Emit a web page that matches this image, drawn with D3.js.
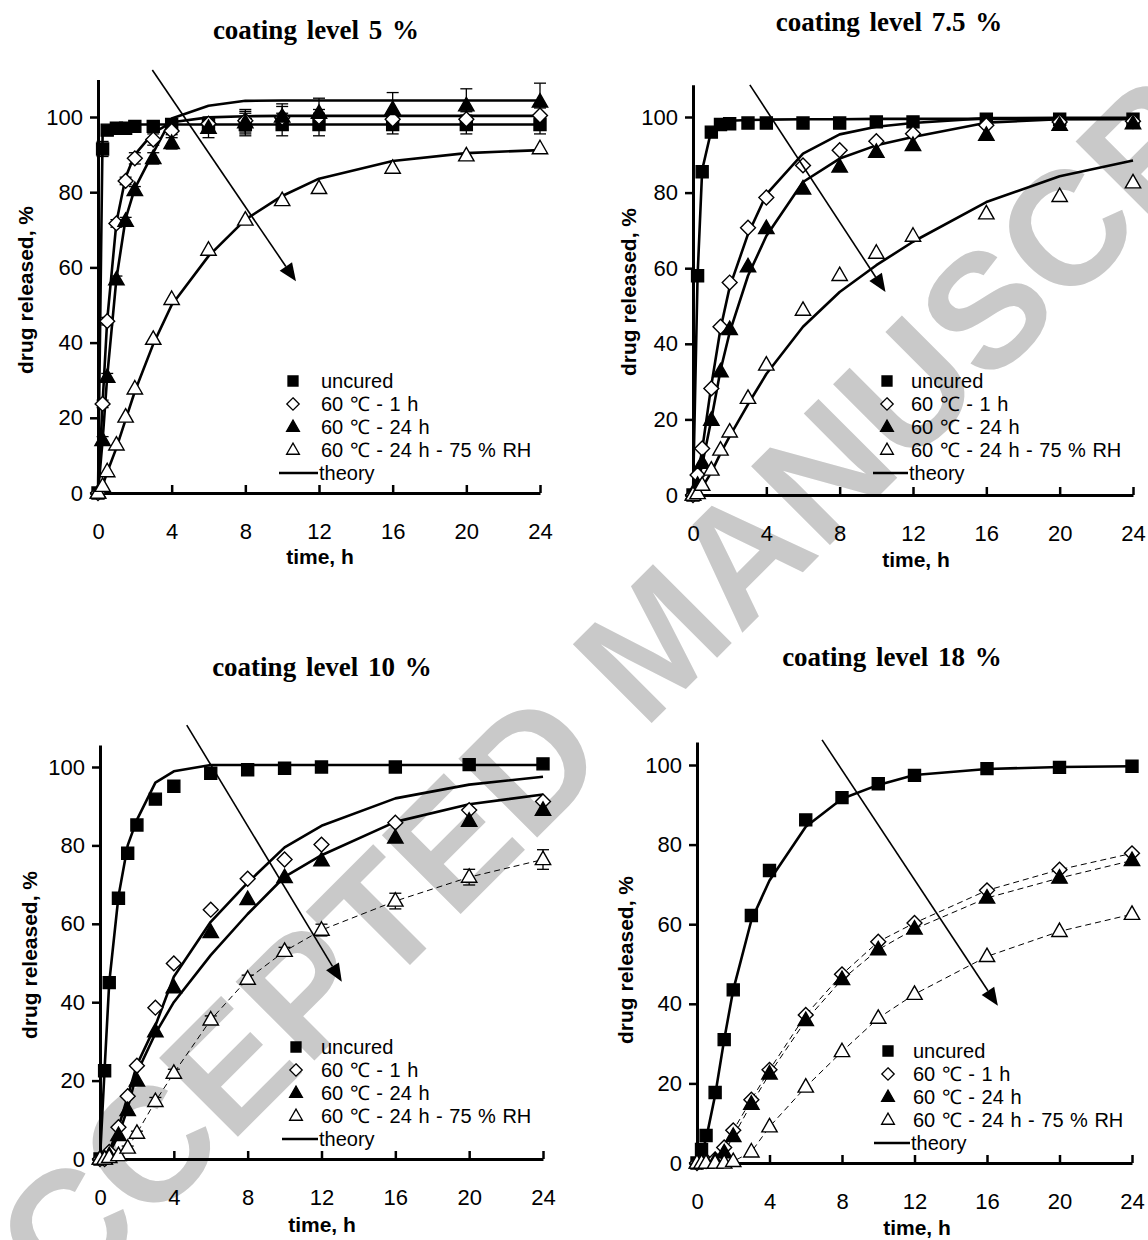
<!DOCTYPE html>
<html>
<head>
<meta charset="utf-8">
<script src="https://cdn.jsdelivr.net/npm/d3@7"></script>
<style>
  body { margin: 0; background: #fff; }
  svg { display: block; }
</style>
</head>
<body>
<svg id="fig" width="1148" height="1240"></svg>
<script>
// ---- shared axes / labels ----
const times = [0, 0.25, 0.5, 1, 1.5, 2, 3, 4, 6, 8, 10, 12, 16, 20, 24];
const xTicks = [0, 4, 8, 12, 16, 20, 24];
const yTicks = [0, 20, 40, 60, 80, 100];
const seriesNames = ["uncured", "60 \u2103 - 1 h", "60 \u2103 - 24 h", "60 \u2103 - 24 h - 75 % RH"];
const panelTitles = ["coating level 5 %", "coating level 7.5 %", "coating level 10 %", "coating level 18 %"];

// ---- coating level 5 % ----
const c5Uncured = [0, 91.5, 96.5, 97, 97, 97.5, 97.5, 98, 98, 98, 98, 98, 98, 98, 98];
const c5Cure1h  = [0, 23.7, 45.7, 71.7, 83, 89, 94, 96.3, 98.2, 99, 99.8, 100, 99.4, 99.4, 100.4];
const c5Cure24h = [0, 14, 30.8, 56.7, 72.3, 80.5, 89, 93, 97, 98.5, 100, 101, 102, 103, 104];
const c5CureRH  = [0, 1.8, 5.7, 12.8, 20.2, 27.7, 40.9, 51.5, 64.6, 72.6, 77.8, 81, 86.4, 89.7, 91.6];
const c5TheoryUncured = [0, 95.5, 97.5, 97.9, 98, 98, 98, 98, 98, 98, 98, 98, 98, 98, 98];
const c5Theory1h  = [0, 24, 46, 72, 84, 90, 95.8, 98.6, 99.9, 100.2, 100.3, 100.3, 100.3, 100.3, 100.3];
const c5Theory24h = [0, 14, 31, 57, 73, 81, 90.5, 99.6, 103, 104.3, 104.4, 104.4, 104.4, 104.4, 104.4];
const c5TheoryRH  = [0, 2, 5.5, 12, 19.5, 27, 39.6, 50, 63, 72.7, 79, 83.6, 88.3, 90.4, 91.2];
const c5ErrUncured = [0, 2, 1, 1, 1, 1, 1, 1, 2, 3, 3, 3, 2.5, 2.5, 2.5];
const c5Err1h  = [0, 1, 1, 1, 1, 1.5, 1.5, 1, 1.5, 3, 3, 2, 2, 2, 2];
const c5Err24h = [0, 1, 1, 1, 1, 1, 1.5, 1.5, 2.5, 3, 3.5, 4, 4.5, 4.5, 5];

// ---- coating level 7.5 % ----
const c75Uncured = [0, 58, 85.5, 96, 98, 98.2, 98.4, 98.4, 98.4, 98.4, 98.7, 98.7, 99.4, 99.4, 99.4];
const c75Cure1h  = [0, 5.3, 12.3, 28.2, 44.5, 56.2, 70.7, 78.7, 87.2, 91.2, 93.6, 95.6, 97.8, 98.7, 98.9];
const c75Cure24h = [0, 2.6, 8.4, 19.8, 32.6, 43.8, 60.4, 70.5, 81, 86.8, 90.7, 92.5, 95.2, 97.8, 98.2];
const c75CureRH  = [0, 0.4, 2.6, 6.6, 11.9, 16.7, 25.6, 34.4, 48.9, 58.1, 64, 68.5, 74.4, 79, 82.6];
const c75TheoryUncured = [0, 58, 86, 96.5, 98.5, 99, 99.2, 99.3, 99.4, 99.4, 99.5, 99.5, 99.5, 99.5, 99.5];
const c75Theory1h  = [0, 5, 12, 29, 44, 55, 69, 79.5, 90.3, 95.4, 97.4, 98.4, 99.7, 99.8, 99.8];
const c75Theory24h = [0, 3, 8, 20, 33, 43, 58, 68.5, 82.8, 89, 92.5, 94.7, 98.5, 99.4, 99.5];
const c75TheoryRH  = [0, 0.7, 2, 6, 11, 15.5, 24, 32, 44.5, 53.7, 60.8, 67, 77.5, 84.3, 88.5];

// ---- coating level 10 % ----
const c10Uncured = [0, 22.5, 45, 66.5, 78, 85.2, 91.8, 95.1, 98.4, 99.3, 99.7, 100, 100, 100.6, 100.8];
const c10Cure1h  = [0, 0, 1.8, 8.1, 16, 23.8, 38.6, 49.9, 63.6, 71.5, 76.4, 80.2, 85.8, 89, 91.2];
const c10Cure24h = [0, 0, 0.9, 6, 12.4, 19.9, 32.5, 43.7, 57.8, 66.2, 71.8, 76.1, 81.9, 86.2, 89];
const c10CureRH  = [0, 0, 0.4, 0.9, 2.8, 6.6, 14.7, 21.9, 35.5, 45.9, 53, 58.4, 65.8, 71.9, 76.4];
const c10TheoryUncured = [0, 23, 45, 67, 80, 86.5, 96, 98.9, 100.5, 100.5, 100.5, 100.5, 100.5, 100.5, 100.5];
const c10Theory1h  = [0, 0.5, 2, 8, 16, 24, 34, 46.5, 60.5, 70.5, 79.5, 85, 92, 95.5, 97.5];
const c10Theory24h = [0, 0.3, 1.5, 6, 13, 22, 32, 40, 52, 62.5, 72, 77.5, 86, 90.5, 93];
const c10ErrRH = [0, 0, 0, 0.5, 0.5, 0.5, 1, 1, 1, 1, 1, 1.5, 2, 2, 2.5];

// ---- coating level 18 % ----
const c18Uncured = [0, 3.4, 6.9, 17.7, 31, 43.5, 62.2, 73.5, 86.2, 91.8, 95.3, 97.4, 99.1, 99.4, 99.7];
const c18Cure1h  = [0, 0.4, 0.5, 0.9, 3.9, 8.2, 15.9, 23.4, 37.2, 47.4, 55.6, 60.3, 68.5, 73.7, 77.8];
const c18Cure24h = [0, 0, 0, 0.5, 2.6, 6.7, 14.8, 22.4, 35.8, 46.1, 53.6, 58.8, 66.6, 71.6, 76];
const c18CureRH  = [0, 0, 0, 0, 0, 0.4, 2.8, 9.1, 19.1, 28, 36.4, 42.4, 51.9, 58.2, 62.5];
const c18TheoryUncured = [0, 2.5, 6, 17, 31, 43.5, 61, 71, 84.5, 91.5, 95, 97.5, 99, 99.5, 99.7];

// ---- trend arrows (start / end in data units: [time, %]) ----
const arrow5  = [[2.95, 112.5], [10.75, 56.3]];
const arrow75 = [[3.1, 108.5], [10.5, 53.7]];
const arrow10 = [[4.7, 110.7], [13.1, 45.2]];
const arrow18 = [[6.9, 106.3], [16.6, 39.5]];

// ---- figure layout ----
const svg = d3.select("#fig");
const SANS = "'Liberation Sans', Arial, Helvetica, sans-serif";
const SERIF = "'Liberation Serif', 'Times New Roman', serif";

// watermark behind the charts
svg.append("text")
  .attr("transform", "translate(655,640) rotate(-45)")
  .attr("text-anchor", "middle")
  .attr("dominant-baseline", "central")
  .attr("font-family", SANS)
  .attr("font-weight", "bold")
  .attr("font-size", 162)
  .attr("fill", "#c9c9c9")
  .text("ACCEPTED MANUSCRIPT");

const styles = [
  { shape: "square",   fill: "#000" },
  { shape: "diamond",  fill: "#fff" },
  { shape: "triangle", fill: "#000" },
  { shape: "triangle", fill: "#fff" }
];

function markerPath(shape, s) {
  if (shape === "square") {
    return `M${-s / 2},${-s / 2}h${s}v${s}h${-s}Z`;
  }
  if (shape === "diamond") {
    const r = s * 0.62;
    return `M0,${-r}L${r},0L0,${r}L${-r},0Z`;
  }
  const w = s * 1.28, h = s * 1.12;
  return `M0,${-h * 0.62}L${w / 2},${h * 0.38}L${-w / 2},${h * 0.38}Z`;
}

const panels = [
  {
    title: panelTitles[0], titleX: 316, titleY: 39,
    left: 98, right: 540, bottom: 493, top100: 117, yTop: 110,
    yLabelX: 33, yLabelY: 290, xLabelX: 320, xLabelY: 564,
    data: [c5Uncured, c5Cure1h, c5Cure24h, c5CureRH],
    errors: [c5ErrUncured, c5Err1h, c5Err24h, null],
    theory: [c5TheoryUncured, c5Theory1h, c5Theory24h, c5TheoryRH],
    dashed: [],
    arrow: arrow5,
    legend: { mx: 293, tx: 321, y: 381 }
  },
  {
    title: panelTitles[1], titleX: 889, titleY: 31,
    left: 693, right: 1133, bottom: 495, top100: 117, yTop: 108.5,
    yLabelX: 636, yLabelY: 292, xLabelX: 916, xLabelY: 567,
    data: [c75Uncured, c75Cure1h, c75Cure24h, c75CureRH],
    errors: [null, null, null, null],
    theory: [c75TheoryUncured, c75Theory1h, c75Theory24h, c75TheoryRH],
    dashed: [],
    arrow: arrow75,
    legend: { mx: 887, tx: 911, y: 381 }
  },
  {
    title: panelTitles[2], titleX: 322, titleY: 676,
    left: 100, right: 543, bottom: 1159, top100: 767, yTop: 105.6,
    yLabelX: 37, yLabelY: 955, xLabelX: 322, xLabelY: 1232,
    data: [c10Uncured, c10Cure1h, c10Cure24h, c10CureRH],
    errors: [null, null, null, c10ErrRH],
    theory: [c10TheoryUncured, c10Theory1h, c10Theory24h, null],
    dashed: [null, null, null, c10CureRH],
    arrow: arrow10,
    legend: { mx: 296, tx: 321, y: 1047 }
  },
  {
    title: panelTitles[3], titleX: 892, titleY: 666,
    left: 697, right: 1132, bottom: 1163, top100: 765, yTop: 105.8,
    yLabelX: 633, yLabelY: 960, xLabelX: 917, xLabelY: 1235,
    data: [c18Uncured, c18Cure1h, c18Cure24h, c18CureRH],
    errors: [null, null, null, null],
    theory: [c18TheoryUncured, null, null, null],
    dashed: [null, c18Cure1h, c18Cure24h, c18CureRH],
    arrow: arrow18,
    legend: { mx: 888, tx: 913, y: 1051 }
  }
];

panels.forEach(drawPanel);

function drawPanel(p) {
  const x = d3.scaleLinear().domain([0, 24]).range([p.left, p.right]);
  const y = d3.scaleLinear().domain([0, 100]).range([p.bottom, p.top100]);
  const g = svg.append("g");

  // title
  g.append("text")
    .attr("x", p.titleX).attr("y", p.titleY)
    .attr("text-anchor", "middle")
    .attr("font-family", SERIF).attr("font-weight", "bold").attr("font-size", 27)
    .attr("word-spacing", 3)
    .text(p.title);

  // y axis, drawn up to the panel's top value
  const yAxisScale = d3.scaleLinear().domain([0, p.yTop]).range([y(0), y(p.yTop)]);
  const yAxis = g.append("g")
    .attr("transform", `translate(${x(0)},0)`)
    .call(d3.axisLeft(yAxisScale).tickValues(yTicks).tickSizeInner(8).tickSizeOuter(0).tickPadding(7));
  // x axis with ticks pointing into the plot
  const xAxis = g.append("g")
    .attr("transform", `translate(0,${y(0)})`)
    .call(d3.axisBottom(x).tickValues(xTicks).tickSizeInner(-8).tickSizeOuter(0).tickPadding(30));
  [yAxis, xAxis].forEach(a => {
    a.attr("font-family", SANS).attr("font-size", 22);
    a.select(".domain").attr("stroke", "#000").attr("stroke-width", 3);
    a.selectAll(".tick line").attr("stroke", "#000").attr("stroke-width", 2.5);
    a.selectAll(".tick text").attr("fill", "#000");
  });
  xAxis.selectAll(".tick").filter(d => d === 0).select("line").remove();

  // axis titles
  g.append("text")
    .attr("transform", `translate(${p.yLabelX},${p.yLabelY}) rotate(-90)`)
    .attr("text-anchor", "middle")
    .attr("font-family", SANS).attr("font-weight", "bold").attr("font-size", 21)
    .text("drug released, %");
  g.append("text")
    .attr("x", p.xLabelX).attr("y", p.xLabelY)
    .attr("text-anchor", "middle")
    .attr("font-family", SANS).attr("font-weight", "bold").attr("font-size", 21)
    .text("time, h");

  const line = d3.line().x((d, i) => x(times[i])).y(d => y(d));

  // dashed guide lines through measured points
  p.dashed.forEach(vals => {
    if (!vals) return;
    g.append("path").attr("d", line(vals))
      .attr("fill", "none").attr("stroke", "#000")
      .attr("stroke-width", 1).attr("stroke-dasharray", "6,4");
  });

  // theory curves
  p.theory.forEach(vals => {
    if (!vals) return;
    g.append("path").attr("d", line(vals))
      .attr("fill", "none").attr("stroke", "#000")
      .attr("stroke-width", 2.6).attr("stroke-linejoin", "round");
  });

  // error bars
  p.errors.forEach((errs, si) => {
    if (!errs) return;
    const vals = p.data[si];
    const eb = g.append("g").attr("stroke", "#000").attr("stroke-width", 1.3);
    errs.forEach((e, i) => {
      if (!e) return;
      const cx = x(times[i]);
      eb.append("line").attr("x1", cx).attr("x2", cx).attr("y1", y(vals[i] - e)).attr("y2", y(vals[i] + e));
      eb.append("line").attr("x1", cx - 6).attr("x2", cx + 6).attr("y1", y(vals[i] + e)).attr("y2", y(vals[i] + e));
      eb.append("line").attr("x1", cx - 6).attr("x2", cx + 6).attr("y1", y(vals[i] - e)).attr("y2", y(vals[i] - e));
    });
  });

  // markers
  p.data.forEach((vals, si) => {
    const st = styles[si];
    g.append("g").selectAll("path")
      .data(vals)
      .join("path")
      .attr("transform", (d, i) => `translate(${x(times[i])},${y(d)})`)
      .attr("d", markerPath(st.shape, 12))
      .attr("fill", st.fill).attr("stroke", "#000").attr("stroke-width", 1.4);
  });

  // trend arrow
  const [a0, a1] = p.arrow;
  const x0 = x(a0[0]), y0 = y(a0[1]), x1 = x(a1[0]), y1 = y(a1[1]);
  const ang = Math.atan2(y1 - y0, x1 - x0);
  const hl = 18, hw = 7.5;
  const bx = x1 - hl * Math.cos(ang), by = y1 - hl * Math.sin(ang);
  g.append("line").attr("x1", x0).attr("y1", y0).attr("x2", bx).attr("y2", by)
    .attr("stroke", "#000").attr("stroke-width", 1.6);
  g.append("path")
    .attr("d", `M${x1},${y1}L${bx - hw * Math.sin(ang)},${by + hw * Math.cos(ang)}L${bx + hw * Math.sin(ang)},${by - hw * Math.cos(ang)}Z`)
    .attr("fill", "#000");

  // legend
  const lg = g.append("g").attr("font-family", SANS).attr("font-size", 20).attr("word-spacing", 1);
  const rowH = 23;
  seriesNames.forEach((name, si) => {
    const ry = p.legend.y + si * rowH;
    lg.append("path")
      .attr("transform", `translate(${p.legend.mx},${ry})`)
      .attr("d", markerPath(styles[si].shape, 10))
      .attr("fill", styles[si].fill).attr("stroke", "#000").attr("stroke-width", 1.3);
    lg.append("text").attr("x", p.legend.tx).attr("y", ry).attr("dy", "0.35em").text(name);
  });
  const ty = p.legend.y + 4 * rowH;
  lg.append("line")
    .attr("x1", p.legend.mx - 14).attr("x2", p.legend.tx - 3)
    .attr("y1", ty).attr("y2", ty)
    .attr("stroke", "#000").attr("stroke-width", 2.6);
  lg.append("text").attr("x", p.legend.tx - 2).attr("y", ty).attr("dy", "0.35em").text("theory");
}
</script>
</body>
</html>
